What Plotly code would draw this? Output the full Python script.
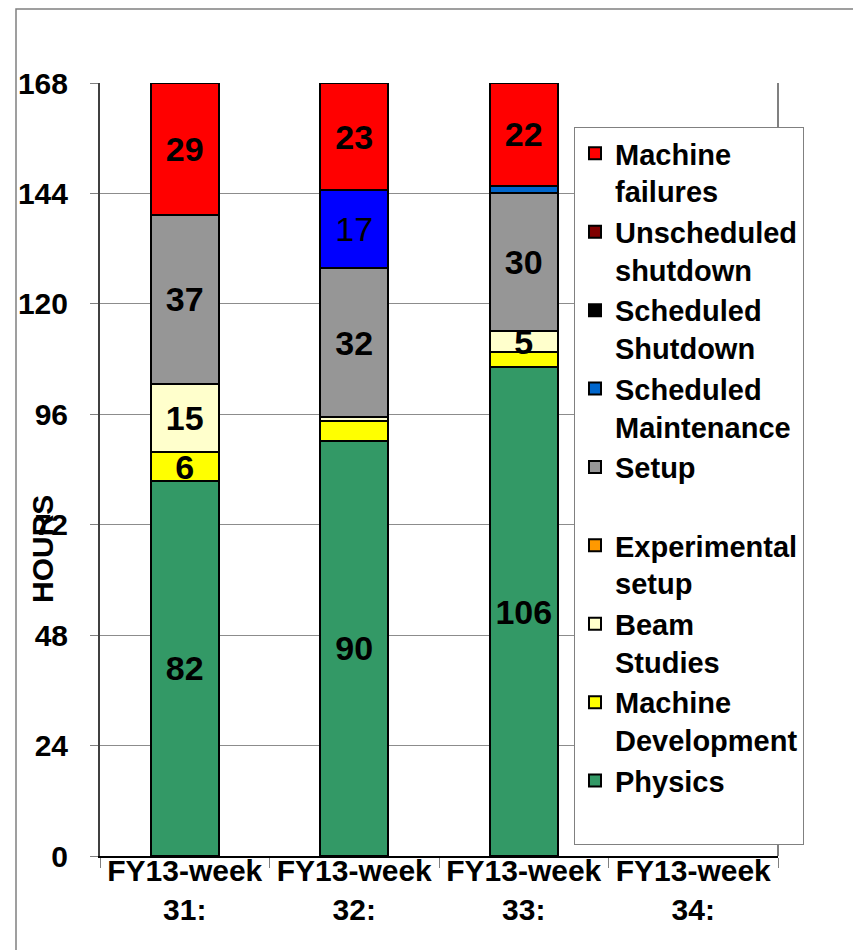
import plotly.graph_objects as go

categories = ["FY13-week<br>31:", "FY13-week<br>32:", "FY13-week<br>33:", "FY13-week<br>34:"]

physics = [81.6, 90.3, 106.2, 0]
machine_development = [6.1, 4.2, 3.3, 0]
beam_studies = [14.8, 1.0, 4.6, 0]
experimental_setup = [0, 0, 0, 0]
setup = [36.9, 32.2, 30.1, 0]
scheduled_maintenance = [0, 17.0, 1.5, 0]
scheduled_shutdown = [0, 0, 0, 0]
unscheduled_shutdown = [0, 0, 0, 0]
machine_failures = [28.6, 23.3, 22.3, 0]

y_ticks = [0, 24, 48, 72, 96, 120, 144, 168]

series = [
    ("Physics<br> ", physics, "#339966", "bold"),
    ("Machine<br>Development", machine_development, "#FFFF00", "bold"),
    ("Beam<br>Studies", beam_studies, "#FFFFCC", "bold"),
    ("Experimental<br>setup", experimental_setup, "#FF9900", "bold"),
    ("Setup<br> ", setup, "#969696", "bold"),
    ("Scheduled<br>Maintenance", scheduled_maintenance,
     ["#0066CC", "#0000FF", "#0066CC", "#0066CC"], "normal"),
    ("Scheduled<br>Shutdown", scheduled_shutdown, "#000000", "bold"),
    ("Unscheduled<br>shutdown", unscheduled_shutdown, "#800000", "bold"),
    ("Machine<br>failures", machine_failures, "#FF0000", "bold"),
]

FONT = "Liberation Sans, Arial, sans-serif"

fig = go.Figure()
for name, vals, color, weight in series:
    labels = [f"{v:.0f}" if v >= 4.5 else "" for v in vals]
    fig.add_trace(go.Bar(
        name=name, x=categories, y=[v if v else None for v in vals],
        marker=dict(color=color, line=dict(color="black", width=2)),
        text=labels, textposition="inside", insidetextanchor="middle",
        constraintext="none", textangle=0,
        textfont=dict(family=FONT, size=34, color="black", weight=weight),
        width=0.4, hoverinfo="skip",
    ))

# page body has an 8px offset
OFF = 8
W, H = 861 - OFF, 950 - OFF
L, R, T, B = 100 - OFF, 83, 83 - OFF, 94
pw, ph = W - L - R, H - T - B


def px_x(x):
    return (x - OFF - L) / pw


def px_y(y):
    return (H - B - (y - OFF)) / ph


shapes = [
    # outer chart frame
    dict(type="rect", xref="paper", yref="paper",
         x0=px_x(16), x1=px_x(880), y0=px_y(970), y1=px_y(9),
         line=dict(color="#808080", width=1.5), fillcolor="rgba(0,0,0,0)", layer="below"),
    # right plot border
    dict(type="line", xref="paper", yref="paper", x0=1, x1=1, y0=0, y1=1,
         line=dict(color="#808080", width=2), layer="below"),
]

fig.update_layout(
    width=W, height=H,
    margin=dict(l=L, r=R, t=T, b=B, autoexpand=False),
    barmode="stack",
    paper_bgcolor="white", plot_bgcolor="white",
    font=dict(family=FONT, color="black"),
    showlegend=True,
    legend=dict(
        x=px_x(574), xanchor="left",
        y=px_y(127), yanchor="top",
        traceorder="reversed", valign="top",
        bgcolor="white", bordercolor="#808080", borderwidth=1,
        font=dict(family=FONT, size=29, color="black", weight="bold"),
        itemclick=False, itemdoubleclick=False,
    ),
    xaxis=dict(
        type="category", showline=True, linecolor="black", linewidth=1.5,
        ticks="outside", tickson="boundaries", ticklen=10, tickcolor="#808080",
        tickangle=0, showgrid=False, ticklabelstandoff=-13,
        tickfont=dict(family=FONT, size=30, color="black", weight="bold"),
    ),
    yaxis=dict(
        range=[0, 168], tickvals=y_ticks, showline=True, linecolor="#404040", linewidth=2,
        ticks="outside", ticklen=8, tickcolor="#808080",
        showgrid=True, gridcolor="#8c8c8c", gridwidth=1, zeroline=False,
        tickfont=dict(family=FONT, size=30, color="black", weight="bold"),
        ticklabelstandoff=16,
    ),
    shapes=shapes,
    annotations=[dict(
        text="HOURS", textangle=-90, showarrow=False,
        xref="paper", yref="paper",
        x=px_x(42), y=px_y(549),
        xanchor="center", yanchor="middle",
        font=dict(family=FONT, size=30, color="black", weight="bold"),
    )],
)

fig.write_html("out.html")
